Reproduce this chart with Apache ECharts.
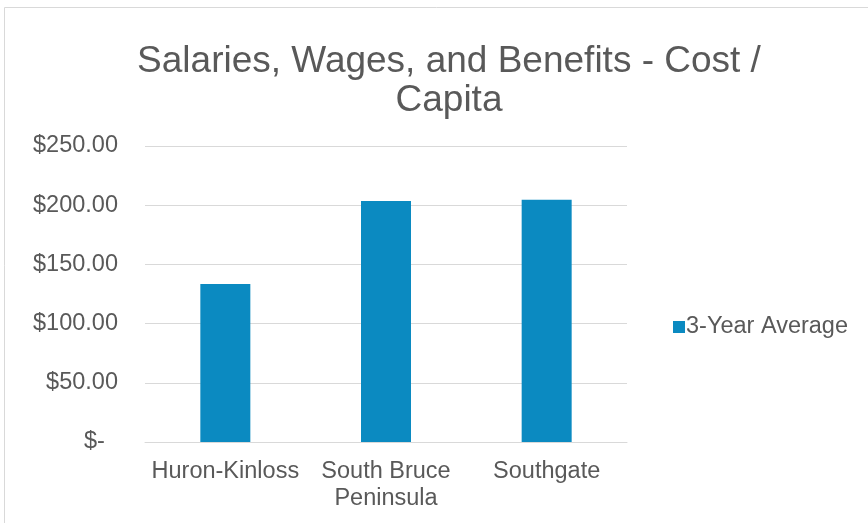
<!DOCTYPE html>
<html>
<head>
<meta charset="utf-8">
<title>Salaries, Wages, and Benefits - Cost / Capita</title>
<script src="https://cdn.jsdelivr.net/npm/echarts@6/dist/echarts.min.js"></script>
<style>
  html, body { margin: 0; padding: 0; background: #fff; }
  #chart { width: 868px; height: 523px; }
</style>
</head>
<body>
<div id="chart"></div>
<script>
  var categories = ['Huron-Kinloss', 'South Bruce\nPeninsula', 'Southgate'];
  var avgValues = [133.5, 203.5, 204.5];
  var yTicks = [0, 50, 100, 150, 200, 250];

  var chart = echarts.init(document.getElementById('chart'));
  var textColor = '#595959';
  var fontFam = '"Liberation Sans", Arial, sans-serif';

  var option = {
    animation: false,
    textStyle: { fontFamily: fontFam },
    graphic: [{
      type: 'rect',
      shape: { x: 4.5, y: 7.5, width: 900, height: 600 },
      style: { fill: 'none', stroke: '#d9d9d9', lineWidth: 1 },
      silent: true
    }],
    title: {
      text: 'Salaries, Wages, and Benefits - Cost /\nCapita',
      left: 444,
      textAlign: 'center',
      top: 37,
      textStyle: { color: textColor, fontSize: 37, fontWeight: 'normal', lineHeight: 39, fontFamily: fontFam }
    },
    legend: {
      data: ['3-Year Average'],
      left: 668,
      top: 310,
      itemWidth: 12,
      itemHeight: 12,
      itemGap: 6,
      icon: 'rect',
      textStyle: { color: textColor, fontSize: 23.5, fontFamily: fontFam, padding: [0, 0, 0, -4] }
    },
    grid: { left: 145, right: 241, top: 146, bottom: 81, containLabel: false },
    xAxis: {
      type: 'category',
      data: categories,
      axisLine: { lineStyle: { color: '#d9d9d9', width: 1 } },
      axisTick: { show: false },
      axisLabel: { color: textColor, fontSize: 23.5, lineHeight: 27, margin: 16, interval: 0 }
    },
    yAxis: {
      type: 'value',
      min: yTicks[0],
      max: yTicks[yTicks.length - 1],
      interval: 50,
      axisLine: { show: false },
      axisTick: { show: false },
      splitLine: { lineStyle: { color: '#d9d9d9', width: 1 } },
      axisLabel: {
        color: textColor, fontSize: 23.5, margin: 27,
        formatter: function (v) { return v === 0 ? '$-  ' : '$' + v.toFixed(2); }
      }
    },
    series: [{
      name: '3-Year Average',
      type: 'bar',
      data: avgValues,
      barWidth: 50,
      itemStyle: { color: '#0B8AC1' }
    }]
  };
  chart.setOption(option);
</script>
</body>
</html>
